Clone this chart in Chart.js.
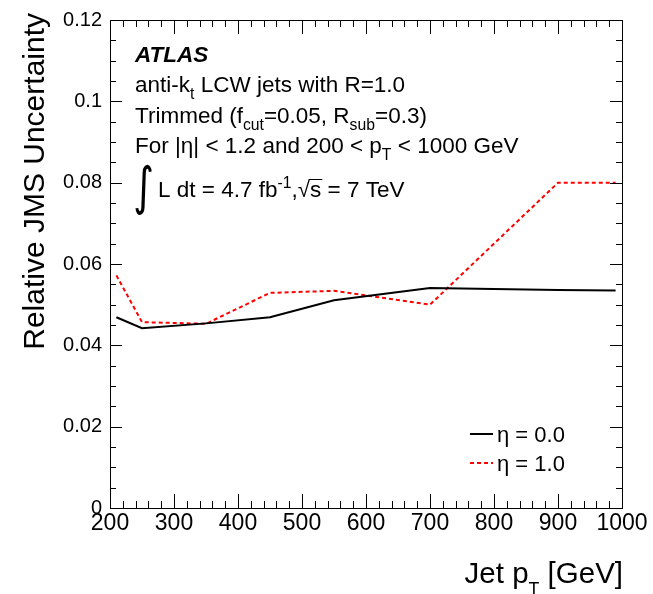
<!DOCTYPE html>
<html>
<head>
<meta charset="utf-8">
<script src="https://cdn.jsdelivr.net/npm/chart.js@4"></script>
<style>
  html, body { margin: 0; padding: 0; background: #fff; }
</style>
</head>
<body>
<canvas id="jms" width="653" height="594"></canvas>
<script>
// jet pT points (GeV) and relative JMS uncertainty
const ptPoints = [210, 250, 350, 450, 550, 700, 900, 990];
const etaZero = [0.0469, 0.0442, 0.0454, 0.0469, 0.0511, 0.0541, 0.0536, 0.0535];
const etaOne = [0.0572, 0.0457, 0.0453, 0.0529, 0.0534, 0.0500, 0.0800, 0.0800];
const seriesLabels = ['η = 0.0', 'η = 1.0'];

const FONT = '"Liberation Sans", Arial, Helvetica, sans-serif';

// draws text with simple sub/superscripts, returns the end x
function richText(ctx, x, y, parts, size, style, dryRun) {
    for (const p of parts) {
        const txt = Array.isArray(p) ? p[0] : p;
        const kind = Array.isArray(p) ? p[1] : '';
        let fs = size, dy = 0;
        if (kind === 'sub') { fs = size * 0.7; dy = size * 0.33; }
        if (kind === 'low') { fs = size * 0.6; dy = size * 0.42; }
        if (kind === 'sup') { fs = size * 0.7; dy = -size * 0.42; }
        ctx.font = (style || '') + ' ' + fs + 'px ' + FONT;
        if (!dryRun) ctx.fillText(txt, x, y + dy);
        x += ctx.measureText(txt).width;
    }
    return x;
}

const atlasDecor = {
    id: 'atlasDecor',
    afterDraw(chart) {
        const ctx = chart.ctx;
        const a = chart.chartArea;
        const xs = chart.scales.x, ys = chart.scales.y;
        ctx.save();
        ctx.strokeStyle = '#000';
        ctx.fillStyle = '#000';
        ctx.lineWidth = 1;

        // frame
        ctx.strokeRect(Math.round(a.left) + 0.5, Math.round(a.top) + 0.5,
            Math.round(a.right - a.left), Math.round(a.bottom - a.top));

        // root style ticks, pointing inwards on all four sides
        ctx.beginPath();
        for (let v = 200; v <= 1000; v += 20) {
            const px = Math.round(xs.getPixelForValue(v)) + 0.5;
            const len = v % 100 === 0 ? 14 : 7;
            ctx.moveTo(px, a.bottom); ctx.lineTo(px, a.bottom - len);
            ctx.moveTo(px, a.top); ctx.lineTo(px, a.top + len);
        }
        for (let i = 0; i <= 24; i++) {
            const py = Math.round(ys.getPixelForValue(i * 0.005)) + 0.5;
            const len = i % 4 === 0 ? 12 : 6;
            ctx.moveTo(a.left, py); ctx.lineTo(a.left + len, py);
            ctx.moveTo(a.right, py); ctx.lineTo(a.right - len, py);
        }
        ctx.stroke();

        // labels block
        ctx.textAlign = 'left';
        ctx.textBaseline = 'alphabetic';
        const tx = a.left + 25;
        const fs = 22.5;
        ctx.font = 'italic bold 22.5px ' + FONT;
        ctx.fillText('ATLAS', tx, 62);
        richText(ctx, tx, 92, ['anti-k', ['t', 'sub'], ' LCW jets with R=1.0'], fs);
        richText(ctx, tx, 123, ['Trimmed (f', ['cut', 'sub'], '=0.05, R', ['sub', 'sub'], '=0.3)'], fs);
        richText(ctx, tx, 153, ['For |η| < 1.2 and 200 < p', ['T', 'sub'], ' < 1000 GeV'], fs);
        ctx.save();
        ctx.font = '40px "DejaVu Sans", ' + FONT;
        ctx.translate(tx - 2, 204);
        ctx.scale(1, 1.3);
        ctx.fillText('∫', 0, 0);
        ctx.restore();
        let ex = richText(ctx, tx + 23, 197, ['L dt = 4.7 fb', ['-1', 'sup'], ',√'], fs);
        ctx.font = fs + 'px ' + FONT;
        const sw = ctx.measureText('s').width;
        ctx.fillText('s', ex, 197);
        ctx.beginPath();
        ctx.moveTo(ex - 1, 179.5); ctx.lineTo(ex + sw + 1, 179.5);
        ctx.stroke();
        ctx.fillText(' = 7 TeV', ex + sw, 197);

        // legend
        const ds = chart.data.datasets;
        const legY = [434, 463];
        ds.forEach((d, i) => {
            ctx.save();
            ctx.strokeStyle = d.borderColor;
            ctx.lineWidth = d.borderWidth;
            ctx.setLineDash(d.borderDash || []);
            ctx.beginPath();
            ctx.moveTo(470, legY[i]); ctx.lineTo(493, legY[i]);
            ctx.stroke();
            ctx.restore();
            ctx.font = '22px ' + FONT;
            ctx.fillText(d.label, 497, legY[i] + 8);
        });

        // axis titles
        const xTitle = ['Jet p', ['T', 'low'], ' [GeV]'];
        const w = richText(ctx, 0, 0, xTitle, 29.5, '', true);
        richText(ctx, a.right + 1 - w, 583, xTitle, 29.5);

        ctx.save();
        ctx.translate(44, 13);
        ctx.rotate(-Math.PI / 2);
        ctx.textAlign = 'right';
        ctx.font = '30px ' + FONT;
        ctx.fillText('Relative JMS Uncertainty', 0, 0);
        ctx.restore();

        ctx.restore();
    }
};

new Chart(document.getElementById('jms'), {
    type: 'line',
    data: {
        datasets: [{
            label: seriesLabels[0],
            data: ptPoints.map((x, i) => ({ x: x, y: etaZero[i] })),
            borderColor: '#000000',
            borderWidth: 2,
            pointRadius: 0,
            fill: false,
            tension: 0
        }, {
            label: seriesLabels[1],
            data: ptPoints.map((x, i) => ({ x: x, y: etaOne[i] })),
            borderColor: '#ff0000',
            borderWidth: 2,
            borderDash: [4, 3],
            pointRadius: 0,
            fill: false,
            tension: 0
        }]
    },
    options: {
        responsive: false,
        animation: false,
        layout: { padding: { top: 15, right: 31, left: 0, bottom: 0 } },
        plugins: {
            legend: { display: false },
            tooltip: { enabled: false }
        },
        scales: {
            x: {
                type: 'linear',
                min: 200,
                max: 1000,
                afterFit: (s) => { s.height = 86; },
                grid: { display: false, drawTicks: false },
                border: { display: false },
                ticks: {
                    stepSize: 100,
                    padding: 2,
                    color: '#000',
                    font: { family: FONT, size: 23 },
                    maxRotation: 0,
                    callback: (v) => String(v)
                }
            },
            y: {
                min: 0,
                max: 0.12,
                afterFit: (s) => { s.width = 110; },
                grid: { display: false, drawTicks: false },
                border: { display: false },
                ticks: {
                    stepSize: 0.02,
                    padding: 8,
                    color: '#000',
                    font: { family: FONT, size: 20 },
                    callback: (v) => String(+v.toFixed(3))
                }
            }
        }
    },
    plugins: [atlasDecor]
});
</script>
</body>
</html>
